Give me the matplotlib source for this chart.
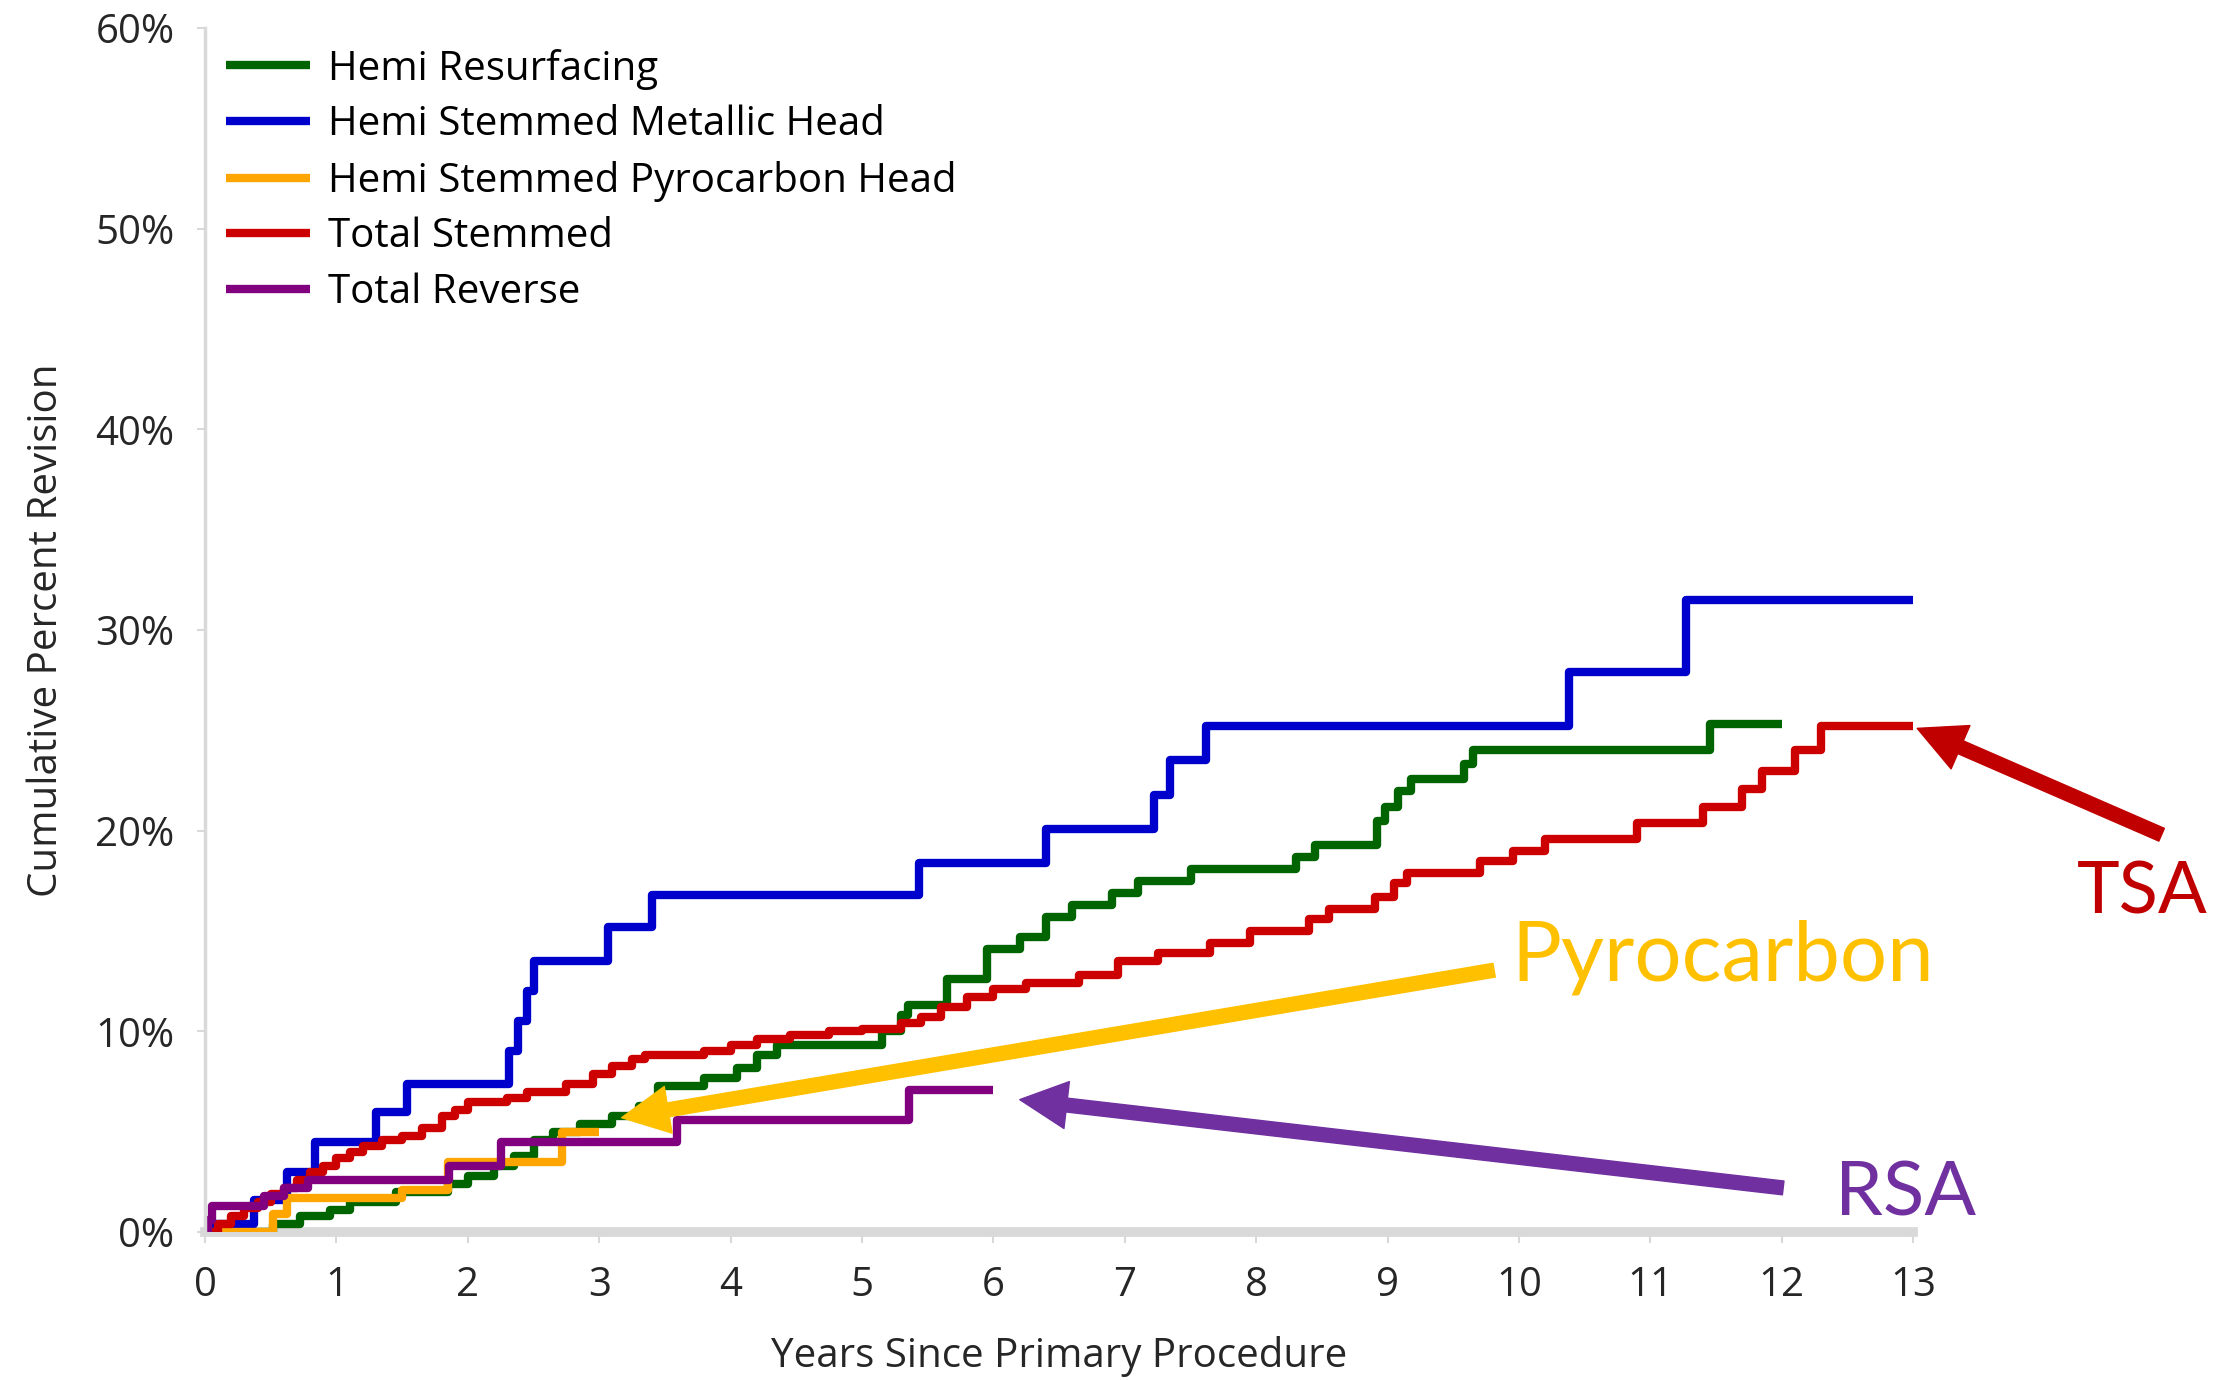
import numpy as np
import matplotlib
matplotlib.use("Agg")
from matplotlib import pyplot as plt
from matplotlib.ticker import FuncFormatter

# --- data (years, cumulative % revision) ---
hemi_resurf_t = [0, 0.52, 0.72, 0.95, 1.1, 1.45, 1.85, 2.0, 2.2, 2.35, 2.5, 2.65, 2.85, 3.1, 3.3,
                 3.45, 3.8, 4.05, 4.2, 4.35, 5.15, 5.3, 5.35, 5.65, 5.95, 6.2, 6.4, 6.6, 6.9, 7.1,
                 7.5, 8.3, 8.45, 8.92, 8.98, 9.08, 9.18, 9.58, 9.65, 11.45, 12.0]
hemi_resurf_y = [0, 0.4, 0.8, 1.1, 1.5, 2.0, 2.4, 2.8, 3.3, 3.8, 4.6, 5.0, 5.4, 5.8, 6.3,
                 7.3, 7.7, 8.2, 8.8, 9.3, 10.0, 10.8, 11.3, 12.6, 14.1, 14.7, 15.7, 16.3, 16.9, 17.5,
                 18.1, 18.7, 19.3, 20.5, 21.2, 22.0, 22.6, 23.3, 24.0, 25.3, 25.3]

hemi_metal_t = [0, 0.37, 0.62, 0.84, 1.3, 1.54, 2.31, 2.38, 2.45, 2.5, 3.07, 3.4, 5.43, 6.4,
                7.22, 7.34, 7.62, 10.38, 11.27, 13.0]
hemi_metal_y = [0.4, 1.6, 3.0, 4.5, 6.0, 7.4, 9.0, 10.5, 12.0, 13.5, 15.2, 16.8, 18.4, 20.1,
                21.8, 23.5, 25.2, 27.9, 31.5, 31.5]

hemi_pyro_t = [0, 0.52, 0.62, 1.5, 1.85, 2.72, 3.0]
hemi_pyro_y = [0, 0.9, 1.7, 2.1, 3.5, 5.0, 5.0]

total_stem_t = [0, 0.1, 0.2, 0.3, 0.4, 0.5, 0.6, 0.7, 0.8, 0.9, 1.0, 1.1, 1.2, 1.35, 1.5, 1.65,
                1.8, 1.9, 2.0, 2.3, 2.45, 2.75, 2.95, 3.1, 3.25, 3.35, 3.8, 4.0, 4.2, 4.45, 4.75,
                5.0, 5.3, 5.45, 5.6, 5.8, 6.0, 6.25, 6.65, 6.95, 7.25, 7.65, 7.95, 8.4, 8.55,
                8.9, 9.05, 9.15, 9.7, 9.95, 10.2, 10.9, 11.4, 11.7, 11.85, 12.1, 12.3, 13.0]
total_stem_y = [0, 0.4, 0.8, 1.2, 1.5, 1.9, 2.2, 2.6, 3.0, 3.3, 3.7, 4.0, 4.3, 4.6, 4.8, 5.2,
                5.8, 6.1, 6.5, 6.7, 7.0, 7.4, 7.9, 8.3, 8.6, 8.8, 9.0, 9.3, 9.6, 9.8, 10.0,
                10.1, 10.4, 10.7, 11.2, 11.7, 12.1, 12.4, 12.8, 13.5, 13.9, 14.4, 15.0, 15.6, 16.1,
                16.7, 17.4, 17.9, 18.5, 19.0, 19.6, 20.4, 21.2, 22.1, 23.0, 24.0, 25.2, 25.2]

total_rev_t = [0, 0.02, 0.05, 0.45, 0.6, 0.78, 1.86, 2.25, 3.59, 5.36, 6.0]
total_rev_y = [0, 0.6, 1.3, 1.8, 2.2, 2.6, 3.3, 4.5, 5.6, 7.1, 7.1]

series = [
    ("Hemi Resurfacing", hemi_resurf_t, hemi_resurf_y, "#006400"),
    ("Hemi Stemmed Metallic Head", hemi_metal_t, hemi_metal_y, "#0000CC"),
    ("Hemi Stemmed Pyrocarbon Head", hemi_pyro_t, hemi_pyro_y, "#FFA500"),
    ("Total Stemmed", total_stem_t, total_stem_y, "#CC0000"),
    ("Total Reverse", total_rev_t, total_rev_y, "#800080"),
]

x_ticks = list(range(0, 14))
y_ticks = [0, 10, 20, 30, 40, 50, 60]

# callouts: (label, colour, font size, text pos, arrow tail, arrow head)
callouts = [
    ("TSA", "#C00000", 52, (14.74, 16.9), (14.89, 19.8), (13.03, 25.1)),
    ("Pyrocarbon", "#FFC000", 60, (11.55, 13.7), (9.81, 13.05), (3.17, 5.7)),
    ("RSA", "#7030A0", 55, (12.94, 1.9), (12.01, 2.2), (6.2, 6.6)),
]

plt.rcParams["font.family"] = ["Open Sans", "DejaVu Sans"]

fig = plt.figure(figsize=(22.17, 13.8), dpi=100)
ax = fig.add_axes([0.0925, 0.1072, 0.7705, 0.8725])

for name, t, y, c in series:
    ax.step(t, y, where="post", color=c, lw=6, label=name, solid_capstyle="butt")

ax.set_xlim(0, 13)
ax.set_ylim(0, 60)
ax.set_xticks(x_ticks)
ax.set_yticks(y_ticks)
ax.yaxis.set_major_formatter(FuncFormatter(lambda v, p: f"{v:.0f}%"))

for s in ["top", "right"]:
    ax.spines[s].set_visible(False)
ax.spines["left"].set_color("#D9D9D9")
ax.spines["left"].set_linewidth(2.5)
ax.spines["bottom"].set_color("#D9D9D9")
ax.spines["bottom"].set_linewidth(7)
ax.spines["bottom"].set_zorder(0)

ax.tick_params(axis="x", colors="#D9D9D9", length=8, width=1.5, pad=16,
               labelcolor="#262626", labelsize=29)
ax.tick_params(axis="y", colors="#D9D9D9", length=6, width=1.5, pad=16,
               labelcolor="#262626", labelsize=29)

ax.set_xlabel("Years Since Primary Procedure", fontsize=29, color="#262626", labelpad=22)
ax.set_ylabel("Cumulative Percent Revision", fontsize=29, color="#262626", labelpad=20)

leg = ax.legend(loc="upper left", frameon=False, fontsize=29, handlelength=2.1,
                handletextpad=0.45, labelspacing=0.38, borderaxespad=0.0,
                borderpad=0.3, bbox_to_anchor=(0.005, 0.993))
for line in leg.get_lines():
    line.set_linewidth(6)

for label, c, fs, tpos, tail, head in callouts:
    ax.annotate("", xy=head, xytext=tail, annotation_clip=False,
                arrowprops=dict(facecolor=c, edgecolor=c, width=10, headwidth=34,
                                headlength=34, shrink=0))
    ax.text(tpos[0], tpos[1], label, color=c, fontsize=fs, family="Lato",
            ha="center", va="center", clip_on=False)

fig.savefig("out.png", dpi=100)
